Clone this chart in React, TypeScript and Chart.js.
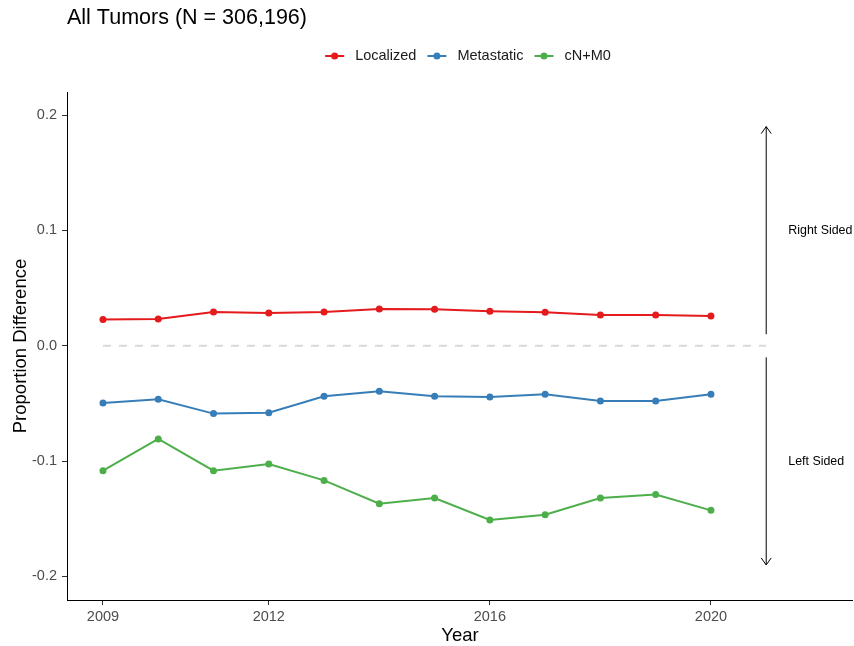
import React, { useEffect, useRef } from "react";
import { Chart, registerables } from "chart.js";

Chart.register(...registerables);

const TITLE = "All Tumors (N = 306,196)";
const X_TITLE = "Year";
const Y_TITLE = "Proportion Difference";

const years = [2009, 2010, 2011, 2012, 2013, 2014, 2015, 2016, 2017, 2018, 2019, 2020];
const localized = [0.0227, 0.0233, 0.0293, 0.0284, 0.0293, 0.0319, 0.0317, 0.0299, 0.029, 0.0267, 0.0267, 0.0259];
const metastatic = [-0.0496, -0.0464, -0.0588, -0.058, -0.0438, -0.0395, -0.0438, -0.0444, -0.0421, -0.0479, -0.0479, -0.0421];
const cnm0 = [-0.1083, -0.0808, -0.1083, -0.1025, -0.1167, -0.1369, -0.132, -0.151, -0.1464, -0.132, -0.129, -0.1427];

const seriesNames = ["Localized", "Metastatic", "cN+M0"];
const seriesColors = ["#E41A1C", "#377EB8", "#4DAF4A"];

const xTicks = [2009, 2012, 2016, 2020];
const yTicks = [-0.2, -0.1, 0, 0.1, 0.2];

const refLineX = [2009, 2021];
const refLineY = [0, 0];

const arrowX = 2021;
const upArrow = [0.01, 0.19];
const downArrow = [-0.01, -0.19];
const sideLabels = ["Right Sided", "Left Sided"];
const sideLabelX = 2021.4;
const sideLabelY = [0.1, -0.1];

const FONT = '"Liberation Sans", Arial, Helvetica, sans-serif';

const annotPlugin = {
  id: "annot",
  afterDraw(chart: any) {
    const { ctx, scales, chartArea } = chart;
    const x = scales.x;
    const y = scales.y;
    ctx.save();
    // extend x-axis line to the panel edge
    ctx.strokeStyle = "#000";
    ctx.lineWidth = 1;
    ctx.beginPath();
    ctx.moveTo(chartArea.right - 1, Math.round(chartArea.bottom) + 0.5);
    ctx.lineTo(853, Math.round(chartArea.bottom) + 0.5);
    ctx.stroke();

    // Title
    ctx.fillStyle = "#000";
    ctx.font = `21.5px ${FONT}`;
    ctx.textAlign = "left";
    ctx.textBaseline = "alphabetic";
    ctx.fillText(TITLE, 67, 23.5);

    // Legend
    ctx.font = `14.5px ${FONT}`;
    const keyW = 19;
    const gap = 11;
    const widths = seriesNames.map((n) => ctx.measureText(n).width);
    const total = widths.reduce((a, b) => a + b, 0) + seriesNames.length * (keyW + gap) + (seriesNames.length - 1) * gap;
    let lx = 468 - total / 2;
    const ly = 56;
    seriesNames.forEach((n, i) => {
      ctx.strokeStyle = seriesColors[i];
      ctx.lineWidth = 2;
      ctx.beginPath();
      ctx.moveTo(lx, ly);
      ctx.lineTo(lx + keyW, ly);
      ctx.stroke();
      ctx.fillStyle = seriesColors[i];
      ctx.beginPath();
      ctx.arc(lx + keyW / 2, ly, 3.5, 0, Math.PI * 2);
      ctx.fill();
      ctx.fillStyle = "#1a1a1a";
      ctx.textBaseline = "middle";
      ctx.fillText(n, lx + keyW + gap, ly);
      lx += keyW + gap + widths[i] + gap;
    });

    // Axis titles
    ctx.fillStyle = "#000";
    ctx.font = `18.5px ${FONT}`;
    ctx.textAlign = "center";
    ctx.textBaseline = "alphabetic";
    ctx.fillText(X_TITLE, (chartArea.left + 853) / 2, 641);
    ctx.save();
    ctx.translate(25.5, (chartArea.top + chartArea.bottom) / 2);
    ctx.rotate(-Math.PI / 2);
    ctx.fillText(Y_TITLE, 0, 0);
    ctx.restore();

    // Arrows
    const ax = x.getPixelForValue(arrowX);
    const drawArrow = (from: number, to: number) => {
      const y0 = y.getPixelForValue(from);
      const y1 = y.getPixelForValue(to);
      const dir = y1 < y0 ? 1 : -1;
      ctx.strokeStyle = "#000";
      ctx.lineWidth = 1;
      ctx.beginPath();
      ctx.moveTo(ax, y0);
      ctx.lineTo(ax, y1);
      ctx.moveTo(ax - 5, y1 + dir * 7);
      ctx.lineTo(ax, y1);
      ctx.lineTo(ax + 5, y1 + dir * 7);
      ctx.stroke();
    };
    drawArrow(upArrow[0], upArrow[1]);
    drawArrow(downArrow[0], downArrow[1]);

    // Side labels
    ctx.font = `12.4px ${FONT}`;
    ctx.fillStyle = "#000";
    ctx.textAlign = "left";
    ctx.textBaseline = "middle";
    sideLabels.forEach((t, i) => {
      ctx.fillText(t, x.getPixelForValue(sideLabelX), y.getPixelForValue(sideLabelY[i]));
    });
    ctx.restore();
  },
};

export default function App() {
  const ref = useRef<HTMLCanvasElement>(null);
  useEffect(() => {
    if (!ref.current) return;
    const mk = (vals: number[], i: number) => ({
      label: seriesNames[i],
      data: years.map((yr, k) => ({ x: yr, y: vals[k] })),
      borderColor: seriesColors[i],
      backgroundColor: seriesColors[i],
      borderWidth: 2,
      pointRadius: 3.5,
      pointBorderWidth: 0,
      pointHoverRadius: 3.5,
      tension: 0,
    });
    const chart = new Chart(ref.current, {
      type: "line",
      data: {
        datasets: [
          mk(localized, 0),
          mk(metastatic, 1),
          mk(cnm0, 2),
          {
            label: "ref",
            data: refLineX.map((v, k) => ({ x: v, y: refLineY[k] })),
            borderColor: "#d9d9d9",
            borderWidth: 2,
            borderDash: [8, 8],
            pointRadius: 0,
          },
        ] as any,
      },
      options: {
        responsive: false,
        animation: false,
        events: [],
        layout: { padding: { left: 0, right: 1, top: 92, bottom: 0 } },
        plugins: { legend: { display: false }, title: { display: false }, tooltip: { enabled: false } },
        scales: {
          x: {
            type: "linear",
            min: 2008.349,
            max: 2022.525,
            afterBuildTicks: (s: any) => {
              s.ticks = xTicks.map((v) => ({ value: v }));
            },
            afterFit: (s: any) => {
              s.height = 46;
            },
            ticks: {
              callback: (v: any) => String(v),
              color: "#4d4d4d",
              font: { size: 14.5, family: FONT },
              padding: 3,
              autoSkip: false,
              maxRotation: 0,
            },
            grid: { drawOnChartArea: false, drawTicks: true, tickLength: 5, color: "#333" },
            border: { color: "#000", width: 1 },
          },
          y: {
            type: "linear",
            min: -0.2204,
            max: 0.22,
            afterBuildTicks: (s: any) => {
              s.ticks = yTicks.map((v) => ({ value: v }));
            },
            afterFit: (s: any) => {
              s.width = 67;
            },
            ticks: {
              callback: (v: any) => Number(v).toFixed(1),
              color: "#4d4d4d",
              font: { size: 14.5, family: FONT },
              padding: 5,
            },
            grid: { drawOnChartArea: false, drawTicks: true, tickLength: 5, color: "#333" },
            border: { color: "#000", width: 1 },
          },
        },
      },
      plugins: [annotPlugin],
    });
    return () => chart.destroy();
  }, []);
  return (
    <div style={{ position: "fixed", left: 0, top: 0, width: 854, height: 646, background: "#fff" }}>
      <canvas ref={ref} width={854} height={646} style={{ width: 854, height: 646 }} />
    </div>
  );
}
